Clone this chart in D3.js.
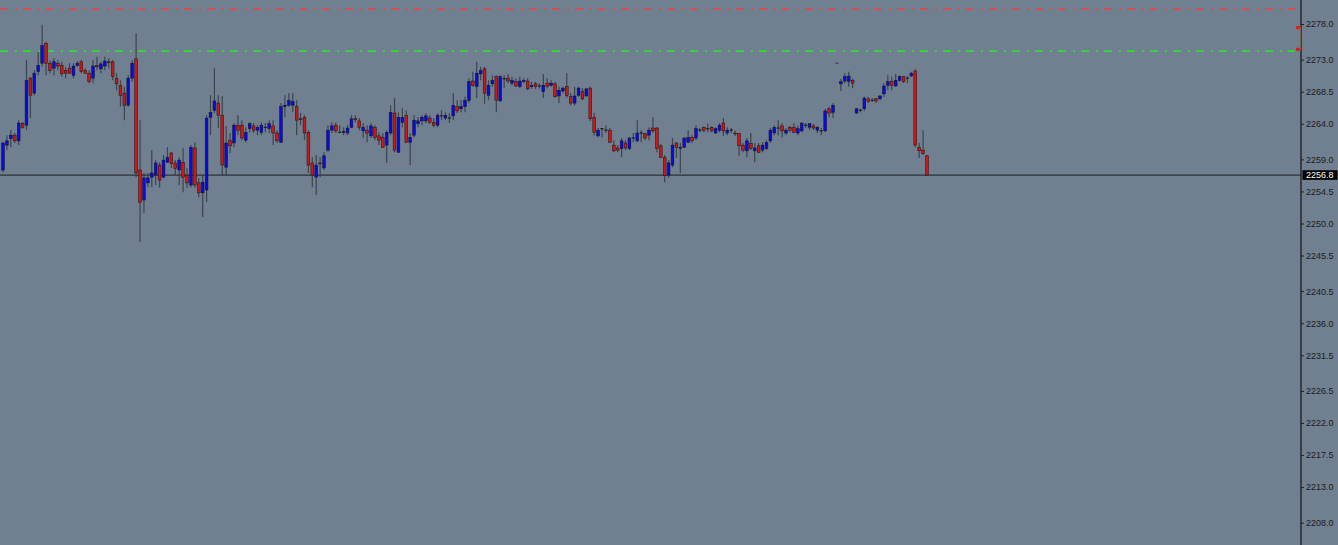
<!DOCTYPE html>
<html>
<head>
<meta charset="utf-8">
<script src="https://cdn.jsdelivr.net/npm/d3@7/dist/d3.min.js"></script>
<style>
html,body{margin:0;padding:0;background:#708090;overflow:hidden;}
svg{display:block;}
</style>
</head>
<body>
<svg id="chart" width="1338" height="545"></svg>
<script>
// ---- DATA ----
const opens = [
2257.5,2261.0,2261.9,2262.4,2261.6,2264.0,2263.8,2270.4,2268.3,2271.3,
2272.5,2275.3,2272.5,2271.8,2272.5,2272.2,2271.5,2271.8,2270.8,2272.2,
2272.7,2271.5,2271.1,2270.4,2272.2,2271.7,2272.1,2272.7,2272.7,2270.4,
2269.4,2268.3,2266.6,2270.4,2273.1,2257.5,2253.3,2255.7,2256.5,2256.8,
2258.2,2256.5,2258.6,2259.9,2258.5,2257.5,2258.6,2256.8,2255.4,2260.6,
2255.7,2254.3,2254.7,2264.9,2265.9,2266.9,2265.2,2257.9,2261.7,2261.3,
2263.8,2263.8,2261.7,2263.3,2263.7,2263.1,2262.8,2263.5,2263.3,2263.7,
2262.7,2261.4,2266.4,2266.6,2266.6,2266.4,2264.7,2264.9,2262.8,2258.5,
2256.5,2258.5,2257.8,2260.3,2263.1,2263.8,2262.8,2262.8,2262.7,2263.5,
2264.7,2264.4,2263.0,2263.1,2262.3,2263.5,2262.3,2262.1,2261.0,2262.7,
2265.5,2260.0,2264.2,2265.2,2261.4,2262.4,2264.0,2264.4,2264.4,2264.8,
2264.2,2263.8,2265.1,2264.8,2264.8,2265.1,2266.4,2266.1,2266.4,2267.3,
2270.0,2269.2,2271.0,2271.7,2268.0,2269.6,2270.6,2267.2,2270.3,2270.4,
2269.7,2269.9,2269.2,2269.9,2270.0,2269.2,2269.6,2269.3,2268.5,2269.7,
2269.4,2269.6,2267.9,2268.6,2269.2,2267.8,2266.9,2268.0,2268.5,2267.9,
2269.0,2264.9,2262.3,2263.3,2263.1,2263.1,2261.0,2260.6,2260.5,2261.3,
2260.5,2262.0,2261.6,2262.7,2262.6,2262.4,2263.4,2263.4,2260.9,2259.3,
2256.8,2258.2,2261.3,2260.6,2260.7,2261.4,2262.1,2262.0,2263.1,2263.5,
2263.3,2263.5,2262.7,2263.1,2264.1,2262.7,2263.1,2262.7,2262.6,2261.0,
2260.2,2261.2,2260.2,2260.9,2260.3,2260.5,2261.6,2262.7,2263.4,2263.7,
2262.7,2263.5,2263.5,2262.7,2263.0,2263.8,2263.5,2263.7,2263.1,2263.0,
2263.0,2266.1,2265.6,2272.5,2269.6,2270.0,2269.9,2270.1,2265.5,2265.9,
2266.1,2267.5,2267.3,2267.5,2267.5,2268.2,2269.4,2269.9,2269.3,2270.1,
2270.6,2270.4,2270.7,2271.4,2260.7,2260.3,2259.5];
const highs = [
2261.4,2262.4,2263.1,2262.7,2264.5,2264.2,2272.9,2270.6,2271.5,2274.1,
2277.9,2275.5,2272.9,2273.2,2272.9,2272.7,2272.0,2272.5,2272.5,2272.8,
2272.9,2271.8,2271.5,2272.9,2273.4,2272.7,2273.4,2273.2,2272.9,2271.1,
2270.1,2269.2,2270.8,2272.9,2276.7,2264.5,2257.1,2257.1,2260.3,2258.9,
2258.6,2259.6,2260.7,2260.0,2258.9,2259.3,2260.6,2257.8,2261.0,2261.4,
2256.4,2256.8,2265.2,2268.0,2271.8,2268.0,2267.9,2263.7,2262.7,2264.1,
2265.2,2264.5,2263.5,2264.2,2264.1,2263.8,2264.2,2264.1,2264.5,2264.5,
2263.1,2266.9,2268.0,2268.3,2268.3,2267.3,2265.5,2265.2,2263.1,2259.3,
2259.6,2259.3,2260.0,2263.8,2264.2,2264.2,2263.8,2263.5,2263.8,2265.2,
2265.2,2264.8,2264.1,2263.8,2264.1,2263.8,2262.8,2262.7,2263.1,2266.6,
2267.6,2265.6,2266.2,2265.9,2262.7,2265.2,2264.9,2265.2,2265.5,2265.2,
2264.8,2265.5,2265.9,2265.6,2265.5,2268.3,2267.3,2267.3,2267.8,2270.4,
2271.3,2272.7,2272.0,2272.0,2270.1,2270.8,2270.8,2270.8,2270.8,2271.0,
2270.6,2270.4,2270.6,2270.4,2270.4,2269.9,2269.9,2269.7,2271.0,2270.4,
2270.1,2269.9,2269.2,2269.2,2271.1,2268.3,2269.2,2269.2,2269.0,2269.0,
2269.2,2265.5,2263.4,2263.4,2263.8,2263.4,2261.7,2261.0,2262.0,2261.7,
2262.1,2262.7,2264.5,2263.1,2262.7,2263.5,2264.9,2263.5,2261.2,2259.6,
2258.9,2262.0,2261.4,2261.3,2262.1,2263.1,2262.4,2263.8,2263.4,2263.6,
2264.0,2263.7,2263.5,2264.1,2264.8,2263.5,2263.4,2263.0,2262.7,2261.3,
2262.0,2262.7,2261.3,2261.3,2261.4,2261.7,2263.4,2263.8,2264.5,2264.1,
2263.4,2263.7,2264.1,2263.8,2264.2,2264.1,2264.1,2264.0,2263.7,2263.4,
2266.1,2266.4,2266.9,2272.6,2270.3,2271.1,2271.3,2270.4,2266.2,2266.1,
2267.8,2267.8,2267.6,2267.6,2268.0,2269.7,2270.8,2270.6,2271.0,2270.8,
2270.7,2270.7,2271.3,2271.7,2261.3,2263.1,2259.6];
const lows = [
2257.2,2260.3,2260.7,2261.3,2261.0,2263.3,2263.1,2264.8,2268.0,2270.8,
2272.0,2270.8,2271.1,2270.8,2271.5,2270.6,2270.4,2271.0,2270.4,2272.0,
2271.1,2271.0,2269.7,2269.7,2271.5,2271.1,2271.5,2271.8,2270.1,2268.7,
2266.4,2264.5,2266.4,2269.9,2256.5,2247.4,2251.5,2255.1,2255.1,2255.4,
2255.0,2256.4,2258.5,2257.8,2256.8,2255.4,2254.4,2255.0,2255.1,2255.0,
2253.7,2250.9,2253.0,2262.4,2265.5,2263.4,2256.8,2256.8,2259.9,2260.7,
2262.4,2261.7,2261.4,2262.8,2262.7,2262.4,2262.4,2262.8,2262.7,2261.0,
2261.3,2261.3,2264.9,2266.4,2265.6,2262.4,2263.8,2261.7,2257.1,2255.1,
2254.0,2256.5,2257.5,2260.0,2262.7,2262.7,2262.7,2262.4,2262.4,2263.4,
2264.2,2263.1,2262.0,2261.4,2262.0,2261.7,2261.0,2260.6,2258.5,2262.4,
2260.0,2259.9,2263.5,2261.3,2258.2,2262.1,2263.5,2263.8,2264.1,2264.0,
2263.5,2263.5,2264.5,2264.5,2264.1,2264.5,2265.5,2265.6,2265.6,2266.9,
2269.2,2267.6,2270.1,2266.8,2267.3,2269.2,2265.6,2267.1,2269.0,2269.7,
2269.4,2269.2,2269.0,2269.7,2268.7,2268.9,2268.9,2268.9,2267.6,2269.0,
2269.2,2267.6,2266.9,2268.3,2267.6,2266.6,2266.6,2267.8,2267.3,2267.8,
2264.4,2262.4,2262.1,2262.1,2262.7,2261.3,2260.0,2260.0,2259.3,2260.3,
2260.3,2261.4,2261.4,2261.4,2261.7,2261.7,2262.7,2260.0,2259.2,2255.8,
2256.4,2257.9,2259.2,2257.1,2260.6,2261.3,2261.3,2261.7,2262.8,2262.8,
2262.8,2262.8,2262.6,2262.8,2262.3,2262.4,2262.7,2262.3,2259.5,2260.0,
2259.3,2260.3,2258.6,2259.9,2260.0,2260.3,2261.3,2262.4,2262.4,2262.1,
2262.4,2262.8,2262.7,2262.4,2262.8,2263.4,2263.1,2263.1,2262.7,2262.4,
2262.8,2264.9,2264.8,2272.5,2268.6,2269.7,2269.2,2269.0,2265.4,2265.6,
2265.8,2266.9,2267.1,2266.9,2267.3,2267.8,2268.7,2268.7,2269.2,2269.9,
2269.7,2269.7,2270.6,2260.7,2259.2,2259.6,2256.7];
const closes = [
2261.3,2261.6,2262.4,2261.6,2264.1,2263.5,2270.1,2268.0,2271.1,2272.2,
2275.0,2272.5,2271.5,2272.7,2272.1,2271.0,2271.1,2271.1,2272.1,2272.5,
2271.3,2271.1,2269.9,2272.1,2272.0,2272.4,2272.8,2272.6,2270.6,2269.6,
2268.0,2266.6,2270.4,2272.5,2257.1,2253.0,2256.4,2256.4,2257.1,2258.5,
2256.1,2258.9,2259.3,2258.4,2257.7,2258.9,2256.5,2255.7,2260.7,2255.4,
2254.3,2255.8,2264.8,2265.6,2267.2,2265.2,2258.2,2261.3,2260.9,2263.8,
2263.1,2262.0,2262.8,2264.0,2263.1,2263.5,2263.8,2263.5,2264.0,2262.7,
2261.6,2266.4,2266.6,2267.3,2267.1,2264.5,2264.6,2262.7,2258.2,2256.8,
2258.2,2258.4,2259.5,2263.1,2263.7,2263.0,2262.8,2262.9,2263.4,2264.7,
2264.6,2263.5,2263.5,2262.7,2263.7,2262.1,2261.7,2260.7,2262.8,2265.6,
2260.3,2264.9,2264.9,2261.4,2262.1,2264.5,2264.4,2264.9,2265.1,2264.2,
2263.8,2265.2,2265.1,2265.2,2264.8,2266.6,2265.8,2266.4,2267.3,2269.9,
2269.4,2271.1,2271.5,2268.3,2269.4,2270.1,2267.3,2270.6,2270.3,2270.0,
2270.1,2269.3,2270.0,2270.1,2268.9,2269.4,2269.2,2269.3,2269.4,2269.2,
2269.7,2267.8,2268.7,2269.0,2268.0,2266.9,2267.9,2269.0,2267.5,2268.9,
2264.7,2262.8,2263.1,2263.3,2263.1,2261.4,2260.2,2260.3,2261.6,2260.6,
2262.0,2262.0,2262.7,2262.7,2262.0,2263.1,2263.0,2260.5,2259.3,2256.7,
2258.5,2261.0,2260.7,2260.7,2262.0,2262.1,2261.6,2263.3,2263.1,2263.1,
2263.3,2263.0,2263.3,2263.8,2263.0,2263.1,2263.1,2262.6,2260.9,2260.3,
2261.6,2260.5,2260.6,2260.0,2261.0,2261.4,2263.1,2263.5,2263.4,2263.0,
2263.1,2263.1,2262.8,2263.3,2264.1,2263.8,2264.0,2263.4,2263.5,2263.0,
2265.8,2265.5,2266.6,2272.5,2269.9,2270.6,2270.7,2269.7,2266.1,2265.9,
2267.6,2267.1,2267.3,2267.2,2267.9,2269.3,2269.9,2269.4,2270.1,2270.6,
2269.9,2270.4,2271.1,2261.0,2260.2,2259.8,2256.8];

const priceTicks = [2278.0,2273.0,2268.5,2264.0,2259.0,2254.5,2250.0,2245.5,2240.5,2236.0,2231.5,2226.5,2222.0,2217.5,2213.0,2208.0];
const currentPrice = 2256.8;
const redLevel = 2280.1;
const greenLevel = 2274.2;
const markerLevels = [2277.5, 2274.45];

// ---- LAYOUT ----
const W = 1338, H = 545;
const axisX = 1301;
const svg = d3.select('#chart');
svg.append('rect').attr('width', W).attr('height', H).attr('fill', '#708090');

const y = d3.scaleLinear().domain([2204.87, 2281.37]).range([H, 0]);
const n = opens.length;
const x = d3.scaleLinear().domain([0, n - 1]).range([3, 927]);

// level lines
svg.append('line').attr('x1', 0).attr('x2', 1295).attr('y1', y(redLevel)).attr('y2', y(redLevel))
  .attr('stroke', '#f04040').attr('stroke-width', 1.6).attr('stroke-dasharray', '8,7,2,6');
svg.append('line').attr('x1', 0).attr('x2', 1295).attr('y1', y(greenLevel)).attr('y2', y(greenLevel))
  .attr('stroke', '#30dc30').attr('stroke-width', 1.6).attr('stroke-dasharray', '8,7,2,6');

// current price line
svg.append('line').attr('x1', 0).attr('x2', axisX).attr('y1', y(currentPrice)).attr('y2', y(currentPrice))
  .attr('stroke', '#2c3136').attr('stroke-width', 1.2);

// candles
const data = d3.range(n).map(i => ({i, o: opens[i], h: highs[i], l: lows[i], c: closes[i]}));
const g = svg.append('g');
g.selectAll('line.wick').data(data).join('line').attr('class', 'wick')
  .attr('x1', d => x(d.i)).attr('x2', d => x(d.i))
  .attr('y1', d => y(d.h)).attr('y2', d => y(d.l))
  .attr('stroke', '#30363d').attr('stroke-width', 1.2).attr('stroke-opacity', 0.8);

const bodies = data.filter(d => d.o !== d.c);
g.selectAll('rect.body').data(bodies).join('rect').attr('class', 'body')
  .attr('x', d => x(d.i) - 1.4).attr('width', 2.8)
  .attr('y', d => y(Math.max(d.o, d.c)))
  .attr('height', d => Math.max(1, y(Math.min(d.o, d.c)) - y(Math.max(d.o, d.c))))
  .attr('fill', d => d.c > d.o ? '#0a0ae6' : '#d41414')
  .attr('stroke', '#151515').attr('stroke-width', 0.5);

const dojis = data.filter(d => d.o === d.c);
g.selectAll('line.doji').data(dojis).join('line').attr('class', 'doji')
  .attr('x1', d => x(d.i) - 1.6).attr('x2', d => x(d.i) + 1.6)
  .attr('y1', d => y(d.o)).attr('y2', d => y(d.o))
  .attr('stroke', d => d.h - d.l < 0.2 ? '#3a4048' : '#111').attr('stroke-width', 1);

// axis
const axis = d3.axisRight(y).tickValues(priceTicks).tickFormat(d3.format('.1f')).tickSize(3).tickPadding(2);
const ag = svg.append('g').attr('transform', `translate(${axisX},0)`).call(axis);
ag.select('.domain').attr('stroke', '#111').attr('stroke-width', 1.2).attr('d', `M0,0V${H}`);
ag.selectAll('.tick line').attr('stroke', '#222');
ag.selectAll('.tick text').attr('fill', '#1c1c1c').style('font-family', '"Liberation Sans", Arial, sans-serif').style('font-size', '9px');

// markers on axis
svg.selectAll('rect.marker').data(markerLevels).join('rect').attr('class', 'marker')
  .attr('x', axisX - 5).attr('width', 5).attr('y', d => y(d) - 1.5).attr('height', 3)
  .attr('fill', '#d42020');
svg.append('line').attr('x1', axisX - 0.8).attr('x2', axisX - 0.8)
  .attr('y1', y(markerLevels[0])).attr('y2', y(markerLevels[1]))
  .attr('stroke', '#8a7a50').attr('stroke-width', 1);

// current price label
const cp = svg.append('g').attr('transform', `translate(${axisX + 1.5},${y(currentPrice)})`);
cp.append('rect').attr('x', 0).attr('y', -4.8).attr('width', 35).attr('height', 9.6).attr('fill', '#000');
cp.append('text').attr('x', 3.5).attr('y', 0).attr('dy', '0.33em').attr('fill', '#fff')
  .style('font-family', '"Liberation Sans", Arial, sans-serif').style('font-size', '9px')
  .text(d3.format('.1f')(currentPrice));
</script>
</body>
</html>
